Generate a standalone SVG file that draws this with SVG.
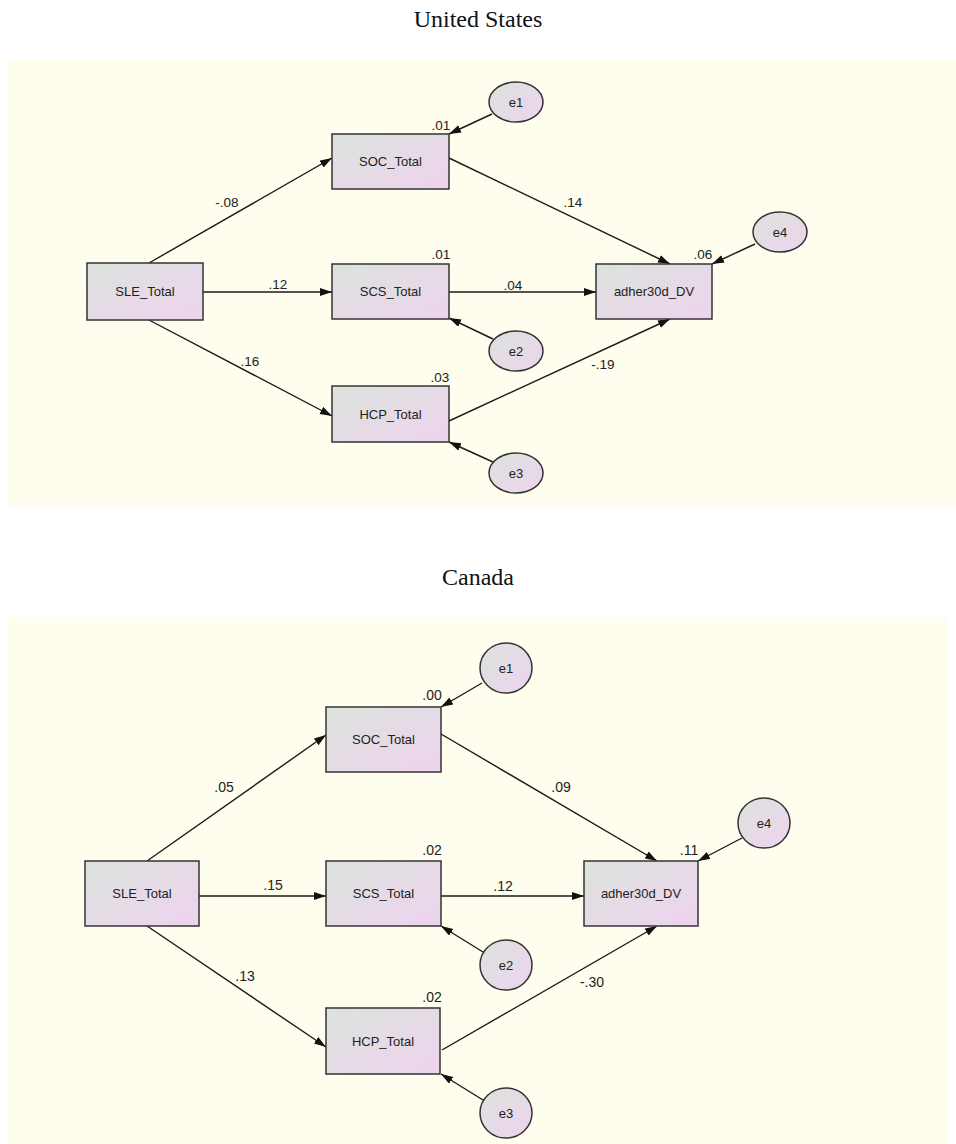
<svg xmlns="http://www.w3.org/2000/svg" width="956" height="1144" viewBox="0 0 956 1144">
<style>
.title{font-family:"Liberation Serif","Times New Roman",serif;font-size:24px;fill:#111;text-anchor:middle}
.box{fill:url(#g);stroke:#333;stroke-width:1.5}
.ell{fill:url(#g);stroke:#333;stroke-width:1.5}
.nt{font-family:"Liberation Sans",Arial,sans-serif;font-size:13px;fill:#222;text-anchor:middle}
.lb{font-family:"Liberation Sans",Arial,sans-serif;font-size:13.5px;fill:#222;text-anchor:middle}
.lb2{font-family:"Liberation Sans",Arial,sans-serif;font-size:14px;fill:#222;text-anchor:middle}
.c line{stroke:#1a1a1a;stroke-width:1.4;marker-end:url(#a)}
</style>
<defs>
<linearGradient id="g" x1="0" y1="0" x2="1" y2="1">
<stop offset="0" stop-color="#dce3dd"/>
<stop offset="1" stop-color="#eed3ee"/>
</linearGradient>
<marker id="a" markerUnits="userSpaceOnUse" markerWidth="13" markerHeight="9" refX="12" refY="4" orient="auto">
<path d="M0,0 L12,4 L0,8 z" fill="#111"/>
</marker>
</defs>
<rect width="956" height="1144" fill="#fff"/>
<text class="title" x="478" y="27">United States</text>
<rect x="8" y="60" width="948" height="446" fill="#fefdee"/>
<text class="title" x="478" y="585">Canada</text>
<rect x="8" y="617" width="940" height="527" fill="#fefdee"/>

<g id="us">
<g class="c" id="us-connectors">
<line x1="149" y1="263" x2="332" y2="158"/>
<line x1="203" y1="292" x2="332" y2="292"/>
<line x1="149" y1="320" x2="332" y2="416"/>
<line x1="449" y1="158" x2="670" y2="264"/>
<line x1="449" y1="292" x2="596" y2="292"/>
<line x1="449" y1="421" x2="670" y2="319"/>
<line x1="492" y1="114" x2="449" y2="134"/>
<line x1="755" y1="244" x2="712" y2="264"/>
<line x1="493" y1="339" x2="449" y2="318"/>
<line x1="493" y1="462" x2="449" y2="442"/>
</g>
<g id="us-SLE"><rect class="box" x="87" y="263" width="116" height="57"/><text class="nt" x="145" y="296">SLE_Total</text></g>
<g id="us-SOC"><rect class="box" x="332" y="134" width="117" height="55"/><text class="nt" x="390.5" y="166">SOC_Total</text><text class="lb" x="441" y="130">.01</text></g>
<g id="us-SCS"><rect class="box" x="332" y="264" width="117" height="55"/><text class="nt" x="390.5" y="296">SCS_Total</text><text class="lb" x="441" y="259">.01</text></g>
<g id="us-HCP"><rect class="box" x="332" y="386" width="117" height="56"/><text class="nt" x="390.5" y="418.5">HCP_Total</text><text class="lb" x="440" y="382">.03</text></g>
<g id="us-adher"><rect class="box" x="596" y="264" width="116" height="55"/><text class="nt" x="654" y="296">adher30d_DV</text><text class="lb" x="703" y="259">.06</text></g>
<g id="us-e1"><ellipse class="ell" cx="516" cy="102" rx="27" ry="20"/><text class="nt" x="516" y="106.5">e1</text></g>
<g id="us-e2"><ellipse class="ell" cx="516" cy="351" rx="27" ry="20"/><text class="nt" x="516" y="355.5">e2</text></g>
<g id="us-e3"><ellipse class="ell" cx="516" cy="473" rx="27" ry="20"/><text class="nt" x="516" y="477.5">e3</text></g>
<g id="us-e4"><ellipse class="ell" cx="780" cy="232" rx="27" ry="20"/><text class="nt" x="780" y="236.5">e4</text></g>
<g id="us-labels">
<text class="lb" x="227" y="207">-.08</text>
<text class="lb" x="278" y="289">.12</text>
<text class="lb" x="250" y="366">.16</text>
<text class="lb" x="573" y="207">.14</text>
<text class="lb" x="513" y="290">.04</text>
<text class="lb" x="603" y="369">-.19</text>
</g>
</g>

<g id="ca">
<g class="c" id="ca-connectors">
<line x1="147" y1="861" x2="326" y2="735"/>
<line x1="199" y1="896" x2="326" y2="896"/>
<line x1="147" y1="926" x2="326" y2="1047"/>
<line x1="441" y1="734" x2="657" y2="861"/>
<line x1="441" y1="896" x2="584" y2="896"/>
<line x1="442" y1="1050" x2="657" y2="926"/>
<line x1="482" y1="683" x2="441" y2="707"/>
<line x1="742" y1="838" x2="698" y2="861"/>
<line x1="483" y1="952" x2="441" y2="926"/>
<line x1="483" y1="1100" x2="441" y2="1074"/>
</g>
<g id="ca-SLE"><rect class="box" x="85" y="861" width="114" height="65"/><text class="nt" x="142" y="898">SLE_Total</text></g>
<g id="ca-SOC"><rect class="box" x="326" y="707" width="115" height="65"/><text class="nt" x="383.5" y="744">SOC_Total</text><text class="lb2" x="432" y="700">.00</text></g>
<g id="ca-SCS"><rect class="box" x="326" y="861" width="115" height="65"/><text class="nt" x="383.5" y="898">SCS_Total</text><text class="lb2" x="432" y="855">.02</text></g>
<g id="ca-HCP"><rect class="box" x="326" y="1008" width="114" height="66"/><text class="nt" x="383" y="1045.5">HCP_Total</text><text class="lb2" x="432" y="1002">.02</text></g>
<g id="ca-adher"><rect class="box" x="584" y="861" width="114" height="65"/><text class="nt" x="641" y="898">adher30d_DV</text><text class="lb2" x="689" y="855">.11</text></g>
<g id="ca-e1"><ellipse class="ell" cx="506" cy="668" rx="26" ry="25"/><text class="nt" x="506" y="672.5">e1</text></g>
<g id="ca-e2"><ellipse class="ell" cx="506" cy="965" rx="26" ry="25"/><text class="nt" x="506" y="969.5">e2</text></g>
<g id="ca-e3"><ellipse class="ell" cx="506" cy="1113" rx="26" ry="25"/><text class="nt" x="506" y="1117.5">e3</text></g>
<g id="ca-e4"><ellipse class="ell" cx="764" cy="823" rx="26" ry="25"/><text class="nt" x="764" y="827.5">e4</text></g>
<g id="ca-labels">
<text class="lb2" x="224" y="792">.05</text>
<text class="lb2" x="273" y="890">.15</text>
<text class="lb2" x="245" y="981">.13</text>
<text class="lb2" x="561" y="792">.09</text>
<text class="lb2" x="503" y="891">.12</text>
<text class="lb2" x="592" y="987">-.30</text>
</g>
</g>
</svg>
